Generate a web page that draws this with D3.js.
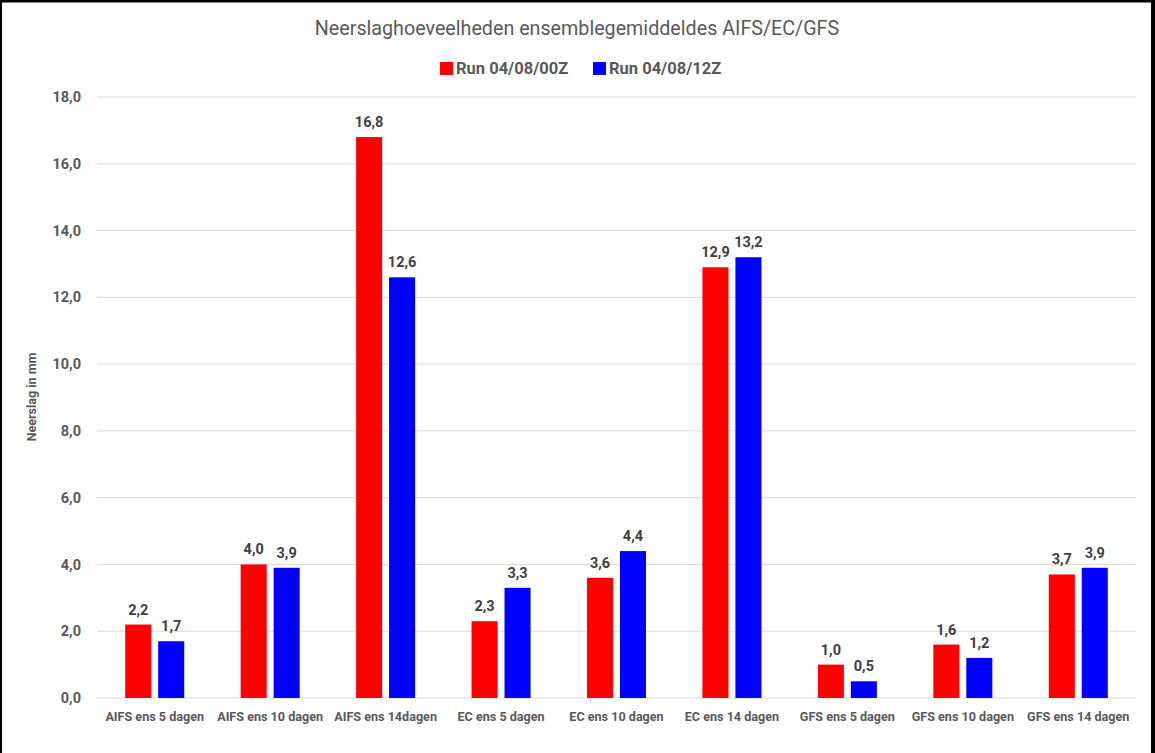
<!DOCTYPE html>
<html><head><meta charset="utf-8">
<script src="https://cdn.jsdelivr.net/npm/d3@7"></script>
<style>html,body{margin:0;padding:0;background:#fff;}svg{display:block;}</style>
</head><body>
<script>
const categories = ["AIFS ens 5 dagen","AIFS ens 10 dagen","AIFS ens 14dagen","EC ens 5 dagen","EC ens 10 dagen","EC ens 14 dagen","GFS ens 5 dagen","GFS ens 10 dagen","GFS ens 14 dagen"];
const seriesNames = ["Run 04/08/00Z","Run 04/08/12Z"];
const run00 = [2.2,4.0,16.8,2.3,3.6,12.9,1.0,1.6,3.7];
const run12 = [1.7,3.9,12.6,3.3,4.4,13.2,0.5,1.2,3.9];
const colors = ["#ff0000","#0000ff"];
const yTicks = [0,2,4,6,8,10,12,14,16,18];
const title = "Neerslaghoeveelheden ensemblegemiddeldes AIFS/EC/GFS";
const yTitle = "Neerslag in mm";

const W=1155,H=753;
const svg=d3.select("body").append("svg").attr("width",W).attr("height",H);
svg.append("rect").attr("width",W).attr("height",H).attr("fill","#fff");
const font="Roboto, 'Open Sans', sans-serif";
const fmt=v=>v.toFixed(1).replace(".",",");

const x0=d3.scaleBand().domain(categories).range([97,1136]).padding(0);
const x1=d3.scaleBand().domain(seriesNames).range([0,59]).paddingInner(0.21);
const y=d3.scaleLinear().domain([0,18]).range([698,97]);

// gridlines
svg.append("g").selectAll("line").data(yTicks).join("line")
 .attr("x1",97).attr("x2",1136).attr("y1",d=>y(d)).attr("y2",d=>y(d))
 .attr("stroke","#d9d9d9").attr("stroke-width",1);

// y tick labels
svg.append("g").selectAll("text").data(yTicks).join("text")
 .attr("x",81).attr("y",d=>y(d)).attr("dy","0.35em").attr("text-anchor","end")
 .attr("font-family",font).attr("font-weight","bold").attr("font-size",14.5).attr("fill","#595959")
 .text(d=>fmt(d));

// y title
svg.append("text").attr("transform","translate(36,397) rotate(-90)").attr("text-anchor","middle")
 .attr("font-family",font).attr("font-weight","bold").attr("font-size",12.5).attr("fill","#595959").text(yTitle);

const data=[run00,run12];
const groups=svg.append("g").selectAll("g").data(seriesNames).join("g");
groups.each(function(s,si){
  const g=d3.select(this);
  const vals=data[si];
  g.selectAll("rect").data(categories).join("rect")
   .attr("x",c=>x0(c)+x0.bandwidth()/2-29.5+x1(s))
   .attr("width",x1.bandwidth())
   .attr("y",(c,i)=>y(vals[i]))
   .attr("height",(c,i)=>y(0)-y(vals[i]))
   .attr("fill",colors[si]);
  g.selectAll("text").data(categories).join("text")
   .attr("x",c=>x0(c)+x0.bandwidth()/2-29.5+x1(s)+x1.bandwidth()/2)
   .attr("y",(c,i)=>y(vals[i])-10)
   .attr("text-anchor","middle")
   .attr("font-family",font).attr("font-weight","bold").attr("font-size",14.5).attr("fill","#404040")
   .text((c,i)=>fmt(vals[i]));
});

// x axis category labels
svg.append("g").selectAll("text").data(categories).join("text")
 .attr("x",c=>x0(c)+x0.bandwidth()/2).attr("y",721).attr("text-anchor","middle")
 .attr("font-family",font).attr("font-weight","bold").attr("font-size",12.6).attr("fill","#595959")
 .text(c=>c);

// title
svg.append("text").attr("x",577).attr("y",35).attr("text-anchor","middle")
 .attr("font-family",font).attr("font-size",19.7).attr("fill","#595959").text(title);

// legend
const legX=[440,593];
seriesNames.forEach((s,i)=>{
  svg.append("rect").attr("x",legX[i]).attr("y",62).attr("width",13).attr("height",13).attr("fill",colors[i]);
  svg.append("text").attr("x",legX[i]+16).attr("y",68.5).attr("dy","0.35em")
   .attr("font-family",font).attr("font-weight","bold").attr("font-size",16.5).attr("fill","#595959").text(s);
});

// frame
svg.append("rect").attr("x",0).attr("y",0).attr("width",W).attr("height",2.5).attr("fill","#000");
svg.append("rect").attr("x",0).attr("y",0).attr("width",2).attr("height",H).attr("fill","#000");
svg.append("rect").attr("x",1151).attr("y",0).attr("width",4).attr("height",H).attr("fill","#000");
</script>
</body></html>
